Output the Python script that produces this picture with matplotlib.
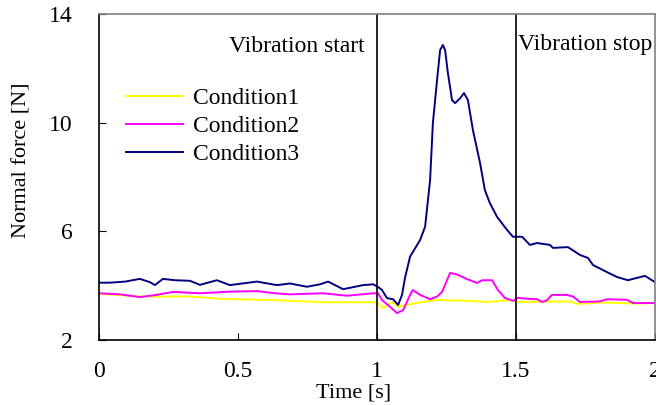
import matplotlib
matplotlib.use("Agg")
import matplotlib.pyplot as plt

# ---- data ----
t3 = [0.0, 0.04, 0.094, 0.147, 0.183, 0.201, 0.23, 0.273, 0.327, 0.363, 0.424, 0.471,
      0.568, 0.64, 0.687, 0.748, 0.795, 0.824, 0.878, 0.95, 0.986, 1.004, 1.018, 1.036,
      1.058, 1.076, 1.09, 1.101, 1.119, 1.155, 1.173, 1.191, 1.201, 1.216, 1.227, 1.237,
      1.245, 1.255, 1.27, 1.281, 1.299, 1.313, 1.327, 1.345, 1.371, 1.388, 1.406, 1.432,
      1.468, 1.489, 1.522, 1.55, 1.576, 1.622, 1.633, 1.687, 1.73, 1.759, 1.777, 1.827,
      1.863, 1.903, 1.921, 1.964, 2.0]
cond3 = [4.11, 4.11, 4.15, 4.25, 4.13, 4.02, 4.25, 4.2, 4.18, 4.03, 4.2, 4.02,
         4.15, 4.02, 4.08, 3.96, 4.05, 4.15, 3.87, 4.02, 4.05, 3.95, 3.84, 3.54,
         3.5, 3.29, 3.66, 4.3, 5.07, 5.68, 6.17, 7.89, 9.98, 11.57, 12.67, 12.86,
         12.67, 11.83, 10.83, 10.72, 10.9, 11.09, 10.83, 9.73, 8.5, 7.52, 7.04, 6.53,
         6.05, 5.8, 5.8, 5.5, 5.57, 5.5, 5.39, 5.42, 5.13, 5.02, 4.76, 4.5,
         4.32, 4.2, 4.25, 4.36, 4.13]

t2 = [0.0, 0.076, 0.147, 0.2, 0.266, 0.363, 0.471, 0.568, 0.633, 0.687, 0.806, 0.892,
      0.986, 1.004, 1.018, 1.047, 1.072, 1.094, 1.119, 1.129, 1.155, 1.191, 1.216, 1.234,
      1.263, 1.291, 1.324, 1.36, 1.378, 1.414, 1.435, 1.46, 1.489, 1.507, 1.54, 1.576,
      1.594, 1.612, 1.629, 1.683, 1.705, 1.73, 1.802, 1.827, 1.899, 1.921, 2.0]
cond2 = [3.72, 3.68, 3.58, 3.65, 3.77, 3.72, 3.78, 3.8, 3.72, 3.68, 3.72, 3.63,
         3.72, 3.72, 3.47, 3.22, 2.99, 3.1, 3.66, 3.84, 3.66, 3.5, 3.6, 3.77,
         4.47, 4.4, 4.24, 4.1, 4.2, 4.2, 3.84, 3.55, 3.44, 3.55, 3.52, 3.5,
         3.4, 3.47, 3.66, 3.66, 3.6, 3.4, 3.42, 3.5, 3.48, 3.36, 3.36]

t1 = [0.0, 0.147, 0.327, 0.446, 0.626, 0.806, 0.928, 1.0, 1.022, 1.054, 1.076, 1.108,
      1.165, 1.216, 1.309, 1.396, 1.478, 1.514, 1.694, 1.719, 1.813, 1.935, 2.0]
cond1 = [3.70, 3.6, 3.6, 3.51, 3.47, 3.39, 3.39, 3.39, 3.17, 3.4, 3.22, 3.3,
         3.4, 3.47, 3.45, 3.4, 3.47, 3.4, 3.42, 3.33, 3.38, 3.34, 3.36]

labels = ["Condition1", "Condition2", "Condition3"]
xticks = [0, 0.5, 1, 1.5, 2]
xticklabels = ["0", "0.5", "1", "1.5", "2"]
yticks = [2, 6, 10, 14]
events = [1.0, 1.5]
event_texts = ["Vibration start", "Vibration stop"]

plt.rcParams["font.family"] = ["Liberation Serif", "DejaVu Serif"]

fig = plt.figure(figsize=(6.56, 4.05), dpi=100)
ax = fig.add_axes([99 / 656, 1 - 340 / 405, 556 / 656, 326 / 405])

ax.plot(t1, cond1, color="#FFFF00", lw=1.4, label=labels[0])
ax.plot(t2, cond2, color="#FF00FF", lw=1.4, label=labels[1])
ax.plot(t3, cond3, color="#000080", lw=1.4, label=labels[2])

for ev in events:
    ax.axvline(ev, color="black", lw=1.2)

ax.set_xlim(0, 2)
ax.set_ylim(2, 14)
ax.set_xticks(xticks)
ax.set_xticklabels(xticklabels)
ax.set_yticks(yticks)
ax.tick_params(axis="x", direction="in", length=5, pad=15, labelsize=17)
ax.tick_params(axis="y", direction="in", length=5, pad=19, labelsize=17)

for s in ["left", "bottom"]:
    ax.spines[s].set_color("black")
    ax.spines[s].set_linewidth(1.2)
for s in ["top", "right"]:
    ax.spines[s].set_color("#808080")
    ax.spines[s].set_linewidth(1.2)

ax.set_xlabel("Time [s]", fontsize=16, va="center")
ax.xaxis.set_label_coords(0.457, -0.163)
ax.set_ylabel("Normal force [N]", fontsize=16, va="center")
ax.yaxis.set_label_coords(-0.138, 0.552)

ax.text(0.957, 12.59, event_texts[0], fontsize=17, ha="right", va="baseline")
ax.text(1.507, 12.67, event_texts[1], fontsize=17, ha="left", va="baseline")

ax.legend(loc="upper left", bbox_to_anchor=(0.0486, 0.774), frameon=False,
          fontsize=17, handlelength=2.4, handletextpad=0.45, labelspacing=0.27,
          borderpad=0, borderaxespad=0)

fig.savefig("out.png", dpi=100)
